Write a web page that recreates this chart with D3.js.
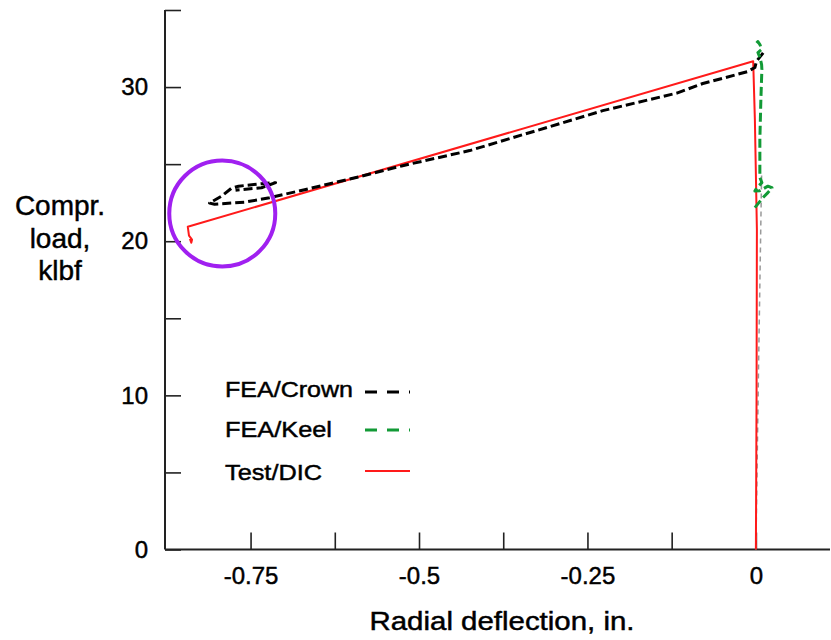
<!DOCTYPE html>
<html>
<head>
<meta charset="utf-8">
<script src="https://cdn.jsdelivr.net/npm/d3@7"></script>
<style>
  html, body { margin: 0; padding: 0; background: #fff; }
  svg { display: block; }
  text { font-family: "Liberation Sans", Arial, Helvetica, sans-serif; fill: #000; stroke: #000; stroke-width: 0.45px; }
</style>
</head>
<body>
<svg id="chart" width="831" height="640"></svg>
<script>
// ---- data (radial deflection in., compressive load klbf) ----
const xTickValues = [-0.75, -0.625, -0.5, -0.375, -0.25, -0.125, 0];
const xTickLabels = [-0.75, -0.5, -0.25, 0];
const yTickValues = [0, 5, 10, 15, 20, 25, 30, 35];
const yTickLabels = [0, 10, 20, 30];

const seriesNames = ["FEA/Crown", "FEA/Keel", "Test/DIC"];

// pre-buckling FEA path (thin grey dashed, no legend entry)
const feaPre = [[0, 0], [0.004, 12], [0.0085, 24.3]];

const feaCrown = [
  [0.0108, 32.22], [0.001, 31.68], [-0.0015, 31.27], [-0.0119, 31.01], [-0.0312, 30.78],
  [-0.0787, 30.23], [-0.1173, 29.61], [-0.2272, 28.47], [-0.3253, 27.18], [-0.4248, 25.88],
  [-0.5243, 24.90], [-0.5881, 24.19], [-0.6698, 23.34], [-0.7218, 22.82], [-0.7589, 22.53],
  [-0.8035, 22.40], [-0.8109, 22.47], [-0.7931, 22.92], [-0.7783, 23.44], [-0.7679, 23.57],
  [-0.7337, 23.73], [-0.7129, 23.80], [-0.7337, 23.47], [-0.7723, 23.31]
];

const feaKeel = [
  [-0.0015, 22.18], [0.0104, 22.82], [0.0178, 23.15], [0.0238, 23.47], [0.0178, 23.57],
  [0.0059, 23.28], [-0.0015, 23.25], [0.0015, 23.47], [0.0089, 23.80], [0.0059, 24.13],
  [0.0059, 26.6], [0.0074, 29.19], [0.0089, 31.14], [0.0085, 31.46], [0.006, 31.92],
  [0.003, 32.24], [0.0085, 32.44], [0.006, 32.76], [0.003, 32.95], [0.001, 32.86]
];

const testDIC = [
  [0, 0], [0.001, 10], [0.0015, 20.75], [-0.0015, 27.89], [-0.004, 31.68],
  [-0.8432, 20.94], [-0.8414, 20.36], [-0.8369, 20.10], [-0.8380, 19.90], [-0.8400, 20.15]
];

// highlighted region (purple ring)
const ringCenter = [-0.792, 21.8];

// ---- layout ----
const svg = d3.select("#chart");
const x = d3.scaleLinear().domain([-0.877, 0.11]).range([165, 830]);
const y = d3.scaleLinear().domain([0, 35]).range([549.5, 10]);

const axisColor = "#222";

// x axis
const gx = svg.append("g").attr("transform", `translate(0,${y(0)})`)
  .call(d3.axisBottom(x).tickValues(xTickValues).tickSizeInner(-17).tickSizeOuter(0)
    .tickPadding(17)
    .tickFormat(d => xTickLabels.some(v => Math.abs(v - d) < 1e-9) ? String(d) : ""));
gx.select(".domain").attr("stroke", axisColor).attr("stroke-width", 2).attr("d", `M${x.range()[0]},0H${x.range()[1]}`);
gx.selectAll(".tick line").attr("stroke", axisColor).attr("stroke-width", 1.6);
gx.selectAll(".tick text").attr("font-size", 24).attr("font-family", "Liberation Sans, Arial, sans-serif")
  .attr("fill", "#000").attr("stroke", "#000").attr("stroke-width", 0.45);

// y axis
const gy = svg.append("g").attr("transform", `translate(${x.range()[0]},0)`)
  .call(d3.axisLeft(y).tickValues(yTickValues).tickSizeInner(-16).tickSizeOuter(0)
    .tickPadding(17)
    .tickFormat(d => yTickLabels.includes(d) ? String(d) : ""));
gy.select(".domain").attr("stroke", axisColor).attr("stroke-width", 2).attr("d", `M0,${y.range()[0]}V${y.range()[1]}`);
gy.selectAll(".tick line").attr("stroke", axisColor).attr("stroke-width", 1.6);
gy.selectAll(".tick text").attr("font-size", 24).attr("font-family", "Liberation Sans, Arial, sans-serif")
  .attr("fill", "#000").attr("stroke", "#000").attr("stroke-width", 0.45);

// axis titles
svg.append("text").attr("x", 502).attr("y", 630).attr("text-anchor", "middle")
  .attr("font-size", 25).attr("textLength", 265).attr("lengthAdjust", "spacingAndGlyphs")
  .text("Radial deflection, in.");
const yTitle = ["Compr.", "load,", "klbf"];
const yTitleY = [215, 247.5, 280];
yTitle.forEach((t, i) => {
  svg.append("text").attr("x", 60).attr("y", yTitleY[i]).attr("text-anchor", "middle")
    .attr("font-size", 28).text(t);
});

// ---- lines ----
const line = d3.line().x(d => x(d[0])).y(d => y(d[1]));

const styles = {
  pre:   { stroke: "#999", width: 1.5, dash: "5,4" },
  crown: { stroke: "#000", width: 3,   dash: "9,4" },
  keel:  { stroke: "#129a36", width: 3, dash: "9,4" },
  test:  { stroke: "#ff1a1a", width: 2, dash: null }
};

function drawSeries(data, st) {
  const p = svg.append("path").datum(data).attr("d", line)
    .attr("fill", "none").attr("stroke", st.stroke).attr("stroke-width", st.width)
    .attr("stroke-linejoin", "round");
  if (st.dash) p.attr("stroke-dasharray", st.dash);
}
drawSeries(feaPre, styles.pre);
drawSeries(testDIC, styles.test);
drawSeries(feaCrown, styles.crown);
drawSeries(feaKeel, styles.keel);

// ring
svg.append("circle").attr("cx", x(ringCenter[0])).attr("cy", y(ringCenter[1])).attr("r", 53)
  .attr("fill", "none").attr("stroke", "#a020f0").attr("stroke-width", 4);

// ---- legend ----
const legendKeys = [styles.crown, styles.keel, styles.test];
const legendTextY = [397, 437, 480];
const legendLineY = [392, 430, 471];
const legendWidths = [128, 107, 97];
seriesNames.forEach((name, i) => {
  svg.append("text").attr("x", 225).attr("y", legendTextY[i]).attr("font-size", 22)
    .attr("textLength", legendWidths[i]).attr("lengthAdjust", "spacingAndGlyphs").text(name);
  const st = legendKeys[i];
  const l = svg.append("line").attr("x1", 365).attr("x2", 410)
    .attr("y1", legendLineY[i]).attr("y2", legendLineY[i])
    .attr("stroke", st.stroke).attr("stroke-width", st.width);
  if (st.dash) l.attr("stroke-dasharray", "12,10");
});
</script>
</body>
</html>
